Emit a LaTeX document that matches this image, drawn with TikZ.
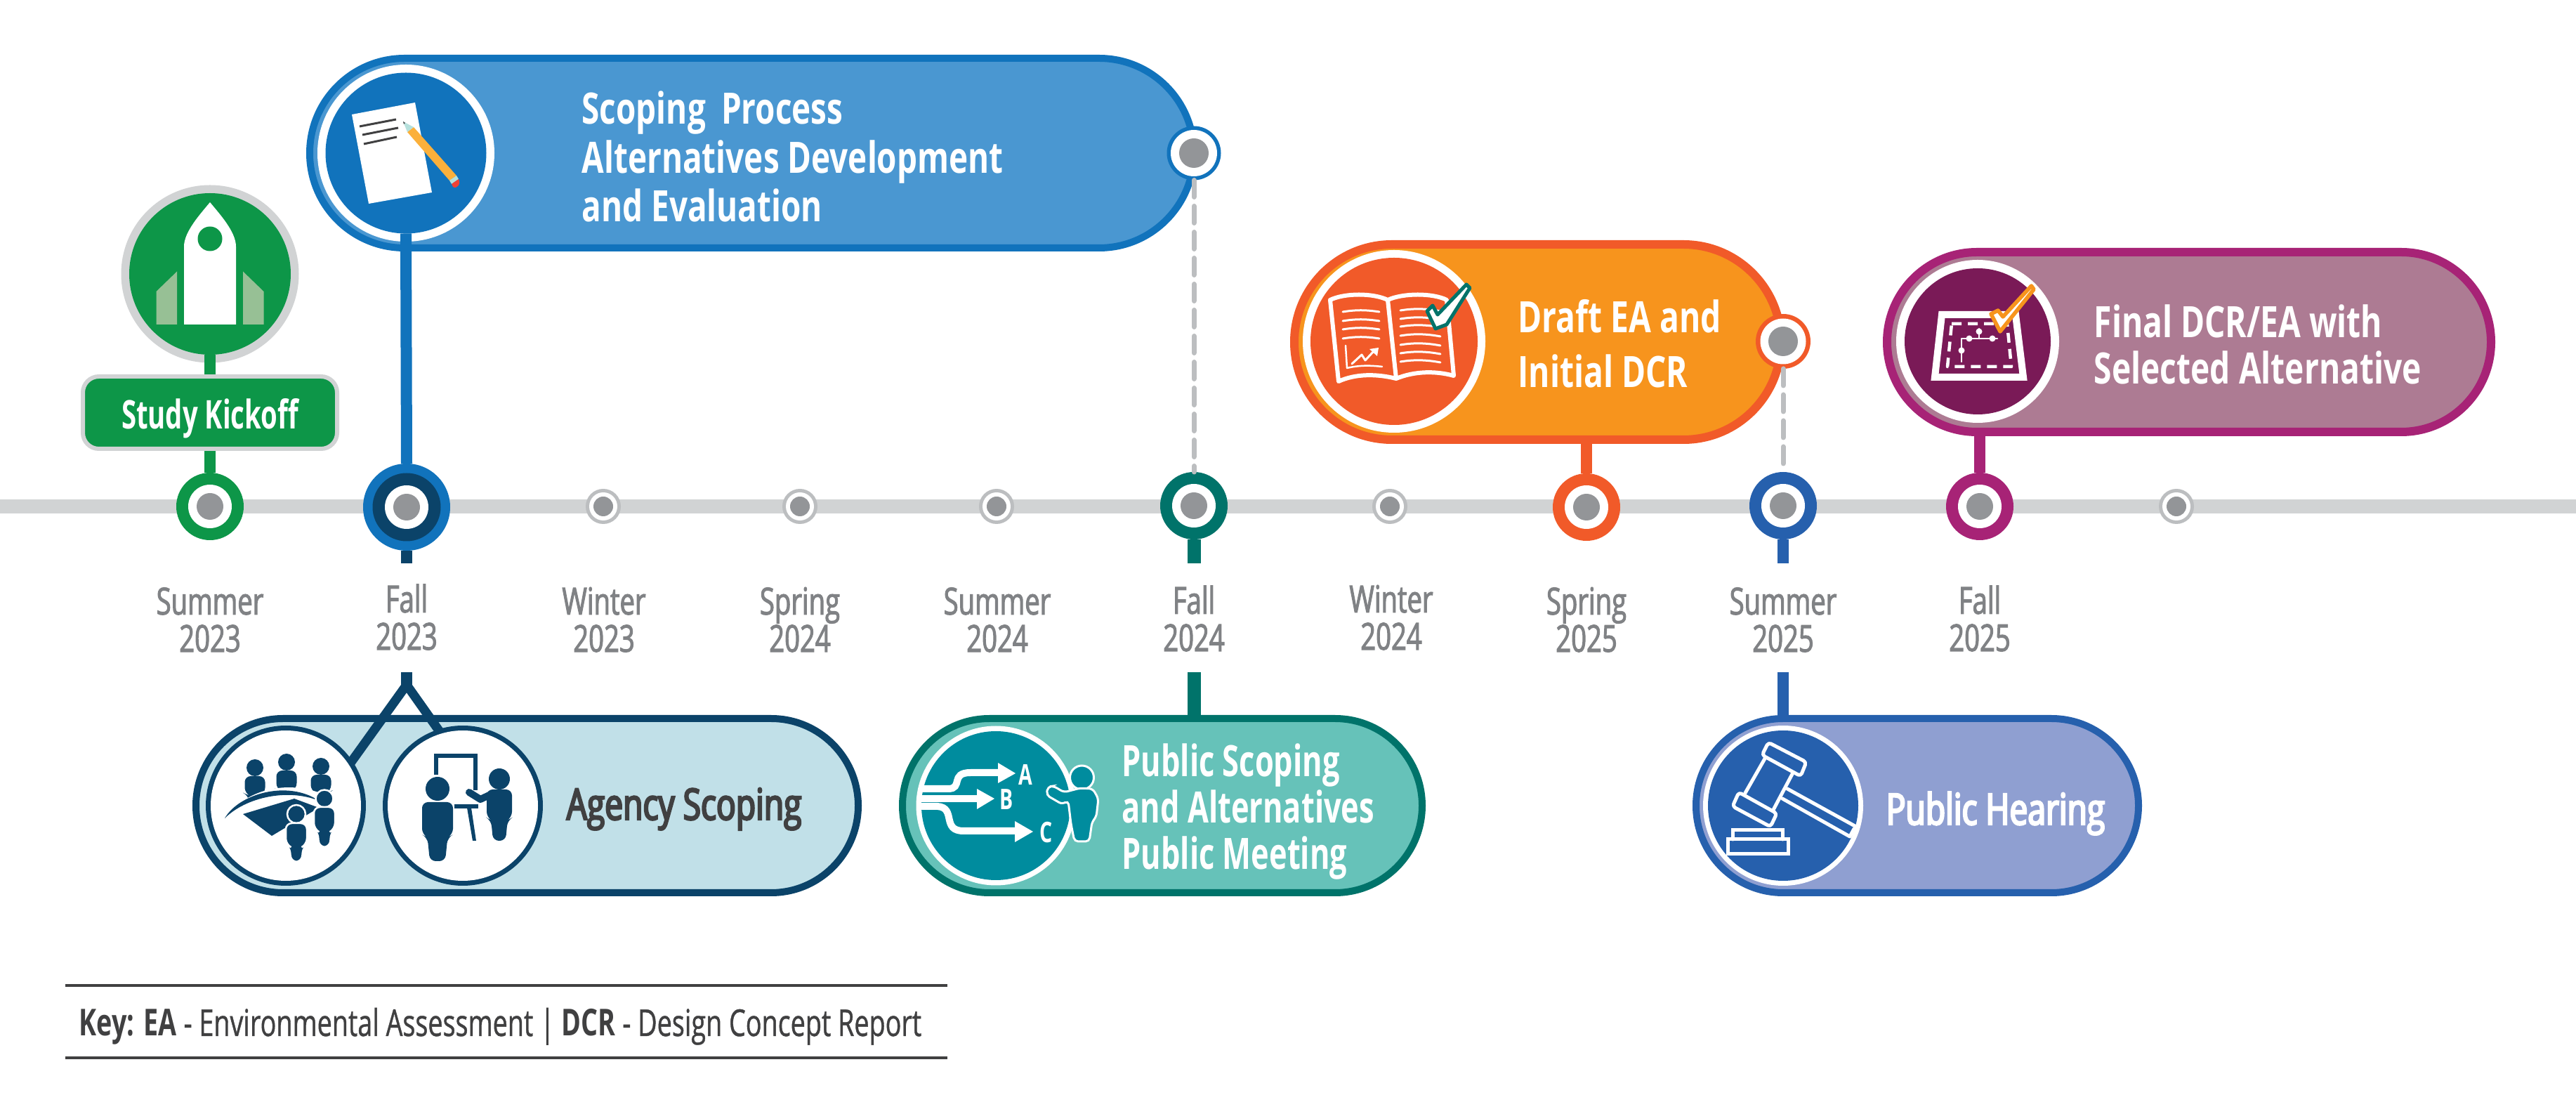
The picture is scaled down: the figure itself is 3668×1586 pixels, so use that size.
\documentclass[tikz,border=0pt]{standalone}
\usepackage{fontspec}
\setmainfont[FakeStretch=0.76]{Open Sans}
\newfontfamily\fdate[FakeStretch=0.72,FakeBold=2]{Open Sans}
\newfontfamily\fkey[FakeStretch=0.715,FakeBold=0.8,BoldFeatures={FakeBold=0}]{Open Sans}
\newfontfamily\fscope[FakeStretch=0.745]{Open Sans Bold}
\newfontfamily\fdraft[FakeStretch=0.75]{Open Sans Bold}
\newfontfamily\fpub[FakeStretch=0.705]{Open Sans Bold}
\newfontfamily\fkick[FakeStretch=0.68]{Open Sans Bold}
\newfontfamily\fsemi[FakeStretch=0.75,FakeBold=4]{Open Sans}
\usetikzlibrary{shapes.misc}
\definecolor{cgreen}{HTML}{0D9648}\definecolor{cline}{HTML}{D1D3D4}\definecolor{ccore}{HTML}{939598}
\definecolor{cring}{HTML}{BCBEC0}\definecolor{cblue}{HTML}{1173BC}\definecolor{clblue}{HTML}{4A97D1}
\definecolor{cnavy}{HTML}{0B4369}\definecolor{clnavy}{HTML}{C1E0E8}\definecolor{cteal}{HTML}{00736A}
\definecolor{clteal}{HTML}{66C2B9}\definecolor{cdteal}{HTML}{008C9E}\definecolor{corange}{HTML}{F15A29}
\definecolor{camber}{HTML}{F7941D}\definecolor{chblue}{HTML}{2660AD}\definecolor{clhblue}{HTML}{8F9FD1}
\definecolor{cmag}{HTML}{A72376}\definecolor{clmag}{HTML}{AD7B93}\definecolor{cdmag}{HTML}{7A1A57}
\definecolor{cdate}{HTML}{808285}\definecolor{cdark}{HTML}{404041}\definecolor{cpencil}{HTML}{FBB03B}
\definecolor{ctip}{HTML}{B5E0DC}\definecolor{cerase}{HTML}{EF4136}\definecolor{cfin}{HTML}{97C095}
\tikzset{
  px/.style={line width=#1*0.01cm},
  disc/.style={circle,inner sep=0pt,outer sep=0pt,minimum size=#1*0.01cm},
  pillw/.style={minimum width=#1*0.01cm},
  pillh/.style={minimum height=#1*0.01cm},
  pill/.style={rounded rectangle,inner sep=0pt,outer sep=0pt},
  datelabel/.style={anchor=base,align=center,inner sep=0pt,text=cdate,font=\fdate\fontsize{15.1}{15.1}\selectfont},
  headtext/.style={anchor=base west,align=left,inner sep=0pt,text=white},
  stem/.style={draw=#1,px=16},
  dashlink/.style={draw=cring,px=7,line cap=round,dash pattern=on 24*0.01cm off 13*0.01cm},
  icon/.style={draw=white,line join=round,line cap=round,px=#1},
}
\newcommand{\msnode}[4]{%
  \node[disc=96,fill=#4] (#1) at (#2,#3) {};
  \node[disc=62,fill=white] (#1w) at (#1.center) {};
  \node[disc=38,fill=ccore] (#1g) at (#1.center) {};}
\newcommand{\msmall}[3]{%
  \node[disc=50,fill=cring] (#1) at (#2,#3) {};
  \node[disc=40,fill=white] (#1w) at (#1.center) {};
  \node[disc=28,fill=ccore] (#1g) at (#1.center) {};}
\newcommand{\figperson}[7][fill=cnavy]{%
  \path[#1] (#2,#3) circle [radius=#4];
  \path[#1,rounded corners=2.4pt] ({#2-#6},{#5}) -- ({#2+#6},{#5}) -- ({#2+#6},{#5+0.55*(#7-#5)})
   -- ({#2+0.65*#6},{#5+0.6*(#7-#5)}) -- ({#2+0.5*#6},#7) -- ({#2-0.5*#6},#7)
   -- ({#2-0.65*#6},{#5+0.6*(#7-#5)}) -- ({#2-#6},{#5+0.55*(#7-#5)}) -- cycle;}
\begin{document}
\begin{tikzpicture}[x=0.01cm,y=-0.01cm]
\useasboundingbox (0,0) rectangle (3668,1586);
\fill[white] (0,0) rectangle (3668,1586);
% timeline
\coordinate (tlstart) at (0,721);
\coordinate (tlend) at (3668,721);
\draw[cline,px=20] (tlstart) -- (tlend);
% milestones
\msnode{m1}{299}{721}{cgreen}
\node[disc=124,fill=cblue] (m2) at (579,722) {};
\node[disc=97,fill=cnavy] (m2n) at (m2.center) {};
\node[disc=62,fill=white] (m2w) at (m2.center) {};
\node[disc=38,fill=ccore] (m2g) at (m2.center) {};
\msmall{m3}{859}{721}
\msmall{m4}{1139}{721}
\msmall{m5}{1419}{721}
\msnode{m6}{1700}{720}{cteal}
\msmall{m7}{1979}{721}
\msnode{m8}{2259}{722}{corange}
\msnode{m9}{2539}{720}{chblue}
\msnode{m10}{2819}{721}{cmag}
\msmall{m11}{3099}{721}
% date labels
\node[datelabel] (d1) at (299,928) {Summer\\2023};
\node[datelabel] (d2) at (579,925) {Fall\\2023};
\node[datelabel] (d3) at (860,928) {Winter\\2023};
\node[datelabel] (d4) at (1139,928) {Spring\\2024};
\node[datelabel] (d5) at (1420,928) {Summer\\2024};
\node[datelabel] (d6) at (1700,927) {Fall\\2024};
\node[datelabel] (d7) at (1981,925) {Winter\\2024};
\node[datelabel] (d8) at (2259,928) {Spring\\2025};
\node[datelabel] (d9) at (2539,928) {Summer\\2025};
\node[datelabel] (d10) at (2819,927) {Fall\\2025};
% study kickoff
\node[disc=253,fill=cline] (rocketring) at (299,390) {};
\node[disc=230,fill=cgreen] (rocketdisc) at (299,390) {};
\path[fill=white] (262,462) -- (262,351) .. controls (262,330) and (285,305) .. (299,288) .. controls (313,305) and (336,330) .. (336,351) -- (336,462) -- cycle;
\path[fill=cgreen] (299,340) circle [radius=17.5];
\path[fill=cfin] (222.5,415) -- (252,386.5) -- (252,462) -- (222.5,462) -- cycle;
\path[fill=cfin] (375.5,415) -- (346,386.5) -- (346,462) -- (375.5,462) -- cycle;
\node[draw=cline,fill=cgreen,px=6,rounded corners=6.5pt,inner sep=0pt,minimum width=362*0.01cm,minimum height=103*0.01cm] (kick) at (299,587.5) {};
\node[inner sep=0pt,anchor=base,text=white,font=\fkick\fontsize{16}{17}\selectfont] (kicktxt) at (299,611) {Study Kickoff};
\draw[stem=cgreen] (rocketdisc.south) -- (kick.north);
\draw[stem=cgreen] (kick.south) -- (m1.north);
% scoping
\node[pill,pillw=1259,pillh=270,draw=cblue,fill=clblue,px=10] (scoping) at (1070.5,218) {};
\node[disc=252,fill=white] (s1r) at (578,218) {};
\node[disc=229,fill=cblue] (s1d) at (578,218) {};
\draw[stem=cblue] (s1d.south) -- (m2.north);
\path[fill=white] (501,163) -- (591,146) -- (615,274) -- (525,290) -- cycle;
\draw[px=3,color=cdark] (512,180) -- (564,170) (516,192) -- (567,182) (518,205) -- (565,195);
\path[fill=cpencil] (580,188) -- (589,181) -- (650,250) -- (640,257) -- cycle;
\path[fill=ctip] (640,257) -- (650,250) -- (653,255) -- (643,262) -- cycle;
\path[fill=ctip] (574,173) -- (589,181) -- (580,188) -- cycle;
\path[fill=cdark] (574,173) -- (577,175) -- (575,177) -- cycle;
\path[fill=cerase] (643,262) -- (653,255) .. controls (657,262) and (650,270) .. (645,266) -- cycle;
\node[headtext,font=\fscope\fontsize{17.5}{19.9}\selectfont] (stxt) at (828,316) {Scoping\, Process\\Alternatives Development\\and Evaluation};
\node[disc=77,fill=cblue] (s2) at (1700,218) {};
\node[disc=66,fill=white] (s2w) at (1700,218) {};
\node[disc=42,fill=ccore] (s2g) at (1700,218) {};
\draw[dashlink] (s2.south) -- (m6.north);
% draft
\node[pill,pillw=693,pillh=278,draw=corange,fill=camber,px=12] (draft) at (2189.5,487) {};
\node[disc=260,fill=white] (d1r) at (1985,486) {};
\node[disc=238,fill=corange] (d1d) at (1985,486) {};
\draw[icon=6] (1894,427) .. controls (1915,417) and (1955,417) .. (1976,427) .. controls (1998,417) and (2040,417) .. (2060,427) -- (2070,535) .. controls (2045,528) and (2015,528) .. (1988,539) .. controls (1960,532) and (1930,532) .. (1906,543) -- cycle (1976,427) -- (1988,539);
\foreach \yy in {443,456,468,481}
  \draw[icon=3] (1912,\yy+1) .. controls (1930,\yy-2) and (1945,\yy-2) .. (1964,\yy+1);
\foreach \yy in {441,453,464,477,490,502,514}
  \draw[icon=3] (1994,\yy+1) .. controls (2012,\yy-2) and (2030,\yy-2) .. (2051,\yy+2);
\draw[icon=2.5] (1916,492) -- (1918,524) .. controls (1935,520) and (1950,520) .. (1968,522);
\draw[icon=3] (1925,518) -- (1939,505) -- (1944,513) -- (1957,499);
\path[fill=white] (1950,497) -- (1963,495) -- (1961,507) -- cycle;
\draw[draw=cteal,fill=white,px=5,line join=round] (2032,443) -- (2040,435) -- (2047,448) -- (2088,405) -- (2093,410) -- (2060,462) -- (2044,468) -- cycle;
\node[headtext,font=\fdraft\fontsize{17.5}{22.2}\selectfont] (dtxt) at (2161,552) {Draft EA and\\Initial DCR};
\node[disc=78,fill=corange] (d2) at (2539,486) {};
\node[disc=65,fill=white] (d2w) at (2539,486) {};
\node[disc=42,fill=ccore] (d2g) at (2539,486) {};
\draw[dashlink] (d2.south) -- (m9.north);
\draw[stem=corange] (m8.north |- draft.south) -- (m8.north);
% final
\node[pill,pillw=860,pillh=256,draw=cmag,fill=clmag,px=12] (final) at (3117,487) {};
\node[disc=232,fill=white] (f1r) at (2816,486) {};
\node[disc=208,fill=cdmag] (f1d) at (2816,486) {};
\draw[icon=10,line join=miter] (2765,448) -- (2870,448) -- (2881,537) -- (2755,537) -- cycle;
\draw[icon=4.5,line cap=butt,dash pattern=on 14*0.01cm off 9*0.01cm] (2779,461) -- (2858,461) -- (2864,522) -- (2773,522) -- cycle;
\draw[icon=2.5] (2793,515) -- (2793,482) -- (2844,482) (2818,482) -- (2818,468);
\foreach \cx/\cy in {2793/499,2804/482,2837/482,2818/472}
  \path[fill=white] (\cx,\cy) circle [radius=4.5];
\draw[draw=camber,fill=white,px=5.5,line join=round] (2835,447) -- (2845,442) -- (2852,451) -- (2892.5,407) -- (2896,412) -- (2848,472) -- cycle;
\node[headtext,font=\fdraft\fontsize{17.5}{18.8}\selectfont] (ftxt) at (2981,547) {Final DCR/EA with\\Selected Alternative};
\draw[stem=cmag] (m10.north |- final.south) -- (m10.north);
% agency
\node[pill,pillw=943,pillh=248,draw=cnavy,fill=clnavy,px=10] (agency) at (750.5,1147) {};
\coordinate (aTop) at (579,957);
\coordinate (aFork) at (579,975);
\coordinate (aLegL) at (495,1092);
\coordinate (aLegR) at (632,1050);
\coordinate (aStub) at (579,802);
\draw[stem=cnavy] (m2.south) -- (aStub);
\draw[stem=cnavy] (aTop) -- (aFork);
\draw[draw=cnavy,px=13,miter limit=10] (aLegL) -- (aFork) -- (aLegR);
\node[disc=228,fill=cnavy] (a1r) at (407,1147) {};
\node[disc=214,fill=white] (a1d) at (407,1147) {};
\node[disc=228,fill=cnavy] (a2r) at (659,1147) {};
\node[disc=214,fill=white] (a2d) at (659,1147) {};
\figperson{363}{1093}{12}{1105}{14.5}{1150}
\figperson{408}{1085}{12}{1097}{14.5}{1145}
\figperson{457}{1091}{12}{1103}{14.5}{1145}
\path[fill=white] (315,1180) .. controls (335,1125) and (410,1105) .. (470,1135) -- (470,1200) -- (400,1240) -- (330,1200) -- cycle;
\path[fill=cnavy] (320,1165) .. controls (340,1130) and (410,1110) .. (454,1140) .. controls (410,1122) and (350,1135) .. (320,1165) -- cycle;
\path[fill=cnavy] (346,1159) -- (419,1137) -- (454,1150) -- (387,1190) -- cycle;
\figperson[fill=cnavy,draw=white,px=2.5]{462}{1137}{12.5}{1149}{15}{1206}
\figperson[fill=cnavy,draw=white,px=2.5]{422}{1159}{13}{1172}{15}{1227}
\draw[cnavy,px=6,line join=miter] (621,1103) -- (621,1076) -- (677,1076) -- (677,1125);
\figperson{623}{1123}{17}{1142}{22}{1226}
\figperson{711}{1109}{15}{1124}{18}{1197}
\draw[cnavy,px=10,line cap=round,line join=round] (701,1130) -- (684,1138) -- (668,1128);
\path[fill=cnavy] (647,1145) -- (681,1145) -- (681,1151) -- (647,1151) -- cycle;
\path[fill=cnavy] (665,1150) -- (671,1150) -- (678,1197) -- (673,1197) -- cycle;
\node[headtext,text=cdark,font=\fsemi\fontsize{17.5}{19}\selectfont] (atxt) at (806,1167) {Agency Scoping};
% public scoping
\node[pill,pillw=740,pillh=248,draw=cteal,fill=clteal,px=10] (pubs) at (1655,1147) {};
\node[disc=227,fill=white] (p1r) at (1418,1147) {};
\node[disc=212,fill=cdteal] (p1d) at (1418,1147) {};
\draw[white,px=10] (1311,1123) -- (1350,1123) .. controls (1372,1123) and (1352,1100) .. (1382,1100) -- (1423,1100);
\path[fill=white] (1421,1086) -- (1446,1101) -- (1421,1115) -- cycle;
\draw[white,px=10] (1311,1137) -- (1393,1137);
\path[fill=white] (1391,1123) -- (1416,1137) -- (1391,1152) -- cycle;
\draw[white,px=10] (1311,1148) -- (1335,1148) .. controls (1362,1150) and (1340,1183) .. (1372,1183) -- (1447,1183);
\path[fill=white] (1445,1169) -- (1471,1184) -- (1445,1199) -- cycle;
\node[inner sep=0pt,text=white,font=\fpub\fontsize{11.5}{12}\selectfont] (la) at (1460,1103) {A};
\node[inner sep=0pt,text=white,font=\fpub\fontsize{11.5}{12}\selectfont] (lb) at (1433.5,1138) {B};
\node[inner sep=0pt,text=white,font=\fpub\fontsize{11.5}{12}\selectfont] (lc) at (1490,1185) {C};
\path[fill=cdteal,draw=white,px=3] (1540.5,1107) circle [radius=17];
\path[fill=cdteal,draw=white,px=3,rounded corners=1.5pt] (1515,1128) -- (1538,1122) -- (1556,1123) -- (1564,1137) -- (1561,1163) -- (1555,1170) -- (1551,1198) -- (1530,1198) -- (1525,1173) -- (1521,1140) -- (1512.5,1145) -- (1490,1132) -- (1492,1120) -- (1500,1119) -- cycle;
\node[headtext,font=\fpub\fontsize{17.5}{18.8}\selectfont] (ptxt) at (1597,1238) {Public Scoping\\and Alternatives\\Public Meeting};
\coordinate (pStub) at (1700,802);
\coordinate (pTop) at (1700,957);
\draw[stem=cteal,px=19] (m6.south) -- (pStub);
\draw[stem=cteal,px=19] (pTop) -- (pTop |- pubs.north);
% public hearing
\node[pill,pillw=630,pillh=248,draw=chblue,fill=clhblue,px=10] (hear) at (2730,1147) {};
\node[disc=228,fill=white] (h1r) at (2539,1147) {};
\node[disc=214,fill=chblue] (h1d) at (2539,1147) {};
\draw[icon=5,rounded corners=1.2pt] (2518,1057) -- (2572,1085) -- (2564,1105) -- (2509,1075) -- cycle;
\draw[icon=5,rounded corners=1.2pt] (2476,1128) -- (2530,1158) -- (2521,1177) -- (2467,1148) -- cycle;
\draw[icon=5] (2513,1080) -- (2485,1129) (2552,1102) -- (2525,1153);
\draw[icon=5] (2545,1123) -- (2643,1177) (2538,1137) -- (2634,1191) -- (2640,1180);
\draw[icon=5,line join=miter] (2467,1195) -- (2467,1182) -- (2538,1182) -- (2538,1195);
\draw[icon=5,line join=miter] (2460,1195) rectangle (2546,1216);
\node[headtext,font=\fsemi\fontsize{17.5}{19}\selectfont] (htxt) at (2685,1174) {Public Hearing};
\coordinate (hStub) at (2539,802);
\coordinate (hTop) at (2539,957);
\draw[stem=chblue] (m9.south) -- (hStub);
\draw[stem=chblue] (hTop) -- (hTop |- hear.north);
% key
\coordinate (k1a) at (93,1403);\coordinate (k1b) at (1349,1403);
\coordinate (k2a) at (93,1506);\coordinate (k2b) at (1349,1506);
\draw[cdark,px=3.5] (k1a) -- (k1b);
\draw[cdark,px=3.5] (k2a) -- (k2b);
\node[anchor=base west,inner sep=0pt,text=cdark,font=\fkey\fontsize{15}{16}\selectfont] (keytxt) at (112,1475) {\textbf{Key: EA} - Environmental Assessment | \textbf{DCR} - Design Concept Report};
\end{tikzpicture}
\end{document}
